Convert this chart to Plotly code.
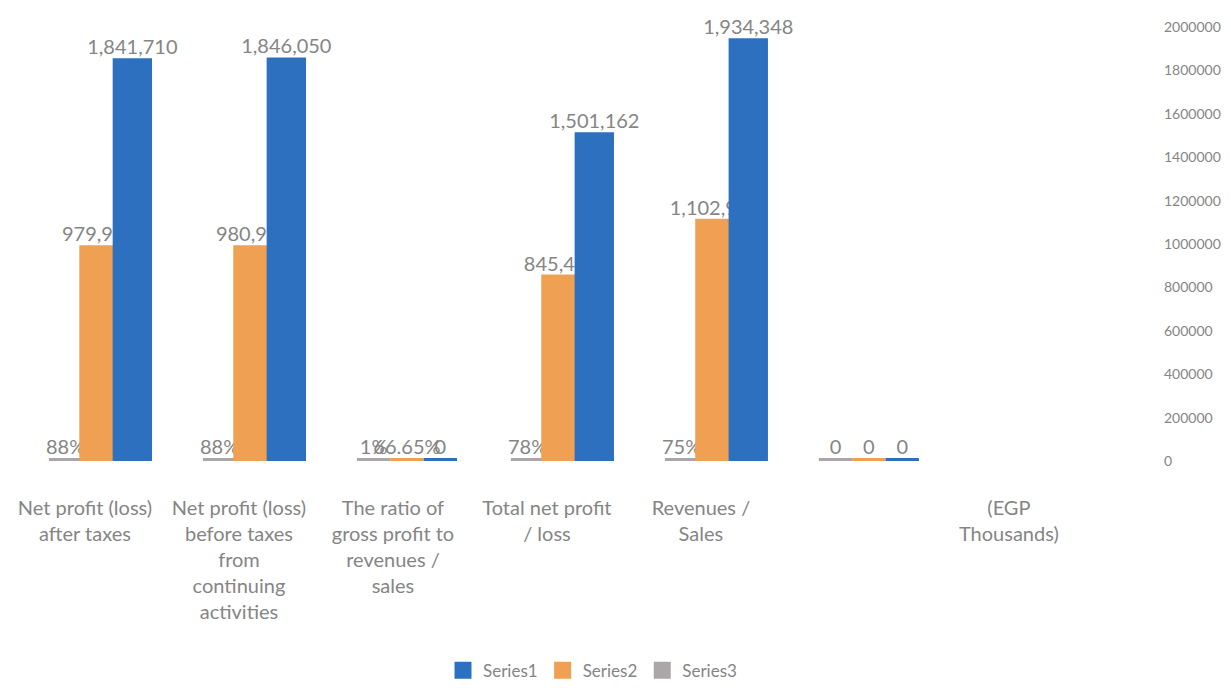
import plotly.graph_objects as go

categories = [
    "Net profit (loss)<br>after taxes",
    "Net profit (loss)<br>before taxes<br>from<br>continuing<br>activities",
    "The ratio of<br>gross profit to<br>revenues /<br>sales",
    "Total net profit<br>/ loss",
    "Revenues /<br>Sales",
    "",
    "(EGP<br>Thousands)",
]
series1 = [1841710, 1846050, 0, 1501162, 1934348, 0, None]
series2 = [979927, 980918, 0.6665, 845406, 1102938, 0, None]
series3 = [0.88, 0.88, 0.01, 0.78, 0.75, 0, None]
labels1 = ["1,841,710", "1,846,050", "0", "1,501,162", "1,934,348", "0", ""]
labels2 = ["979,927", "980,918", "66.65%", "845,406", "1,102,938", "0", ""]
labels3 = ["88%", "88%", "1%", "78%", "75%", "0", ""]
yticks = [0, 200000, 400000, 600000, 800000, 1000000, 1200000, 1400000, 1600000, 1800000, 2000000]

x = list(range(len(categories)))
font = "Lato, 'Open Sans', sans-serif"
label_color = "#858585"

fig = go.Figure()
for name, vals, labs, color, rank in [
    ("Series3", series3, labels3, "#ABA7A9", 3),
    ("Series2", series2, labels2, "#EFA052", 2),
    ("Series1", series1, labels1, "#2E70C0", 1),
]:
    fig.add_trace(go.Bar(
        x=x, y=vals, name=name, text=labs,
        textposition="outside", constraintext="none", cliponaxis=False,
        textfont=dict(size=20, color=label_color, family=font),
        marker=dict(color=color, line=dict(color=color, width=6)),
        legendrank=rank,
    ))

fig.update_layout(
    width=1231, height=690,
    barmode="group", bargap=0.35, bargroupgap=0,
    plot_bgcolor="white", paper_bgcolor="white",
    margin=dict(l=10, r=76, t=16, b=229),
    font=dict(family=font, color=label_color),
    showlegend=True,
    legend=dict(orientation="h", x=0.5, xanchor="center", y=-0.483, yanchor="middle",
                font=dict(size=17, color=label_color), itemwidth=30),
    xaxis=dict(
        tickmode="array", tickvals=x, ticktext=categories,
        range=[-0.5, 6.91], showgrid=False, zeroline=False, showline=False,
        ticks="", tickfont=dict(size=20, color=label_color),
        ticklabelstandoff=33, ticklabelshift=-14,
    ),
    yaxis=dict(
        side="right", range=[0, 2000000], tickmode="array", tickvals=yticks,
        ticktext=[str(v) for v in yticks], showgrid=False, zeroline=False,
        showline=False, tickfont=dict(size=14, color=label_color),
    ),
)

fig.write_html("out.html")
